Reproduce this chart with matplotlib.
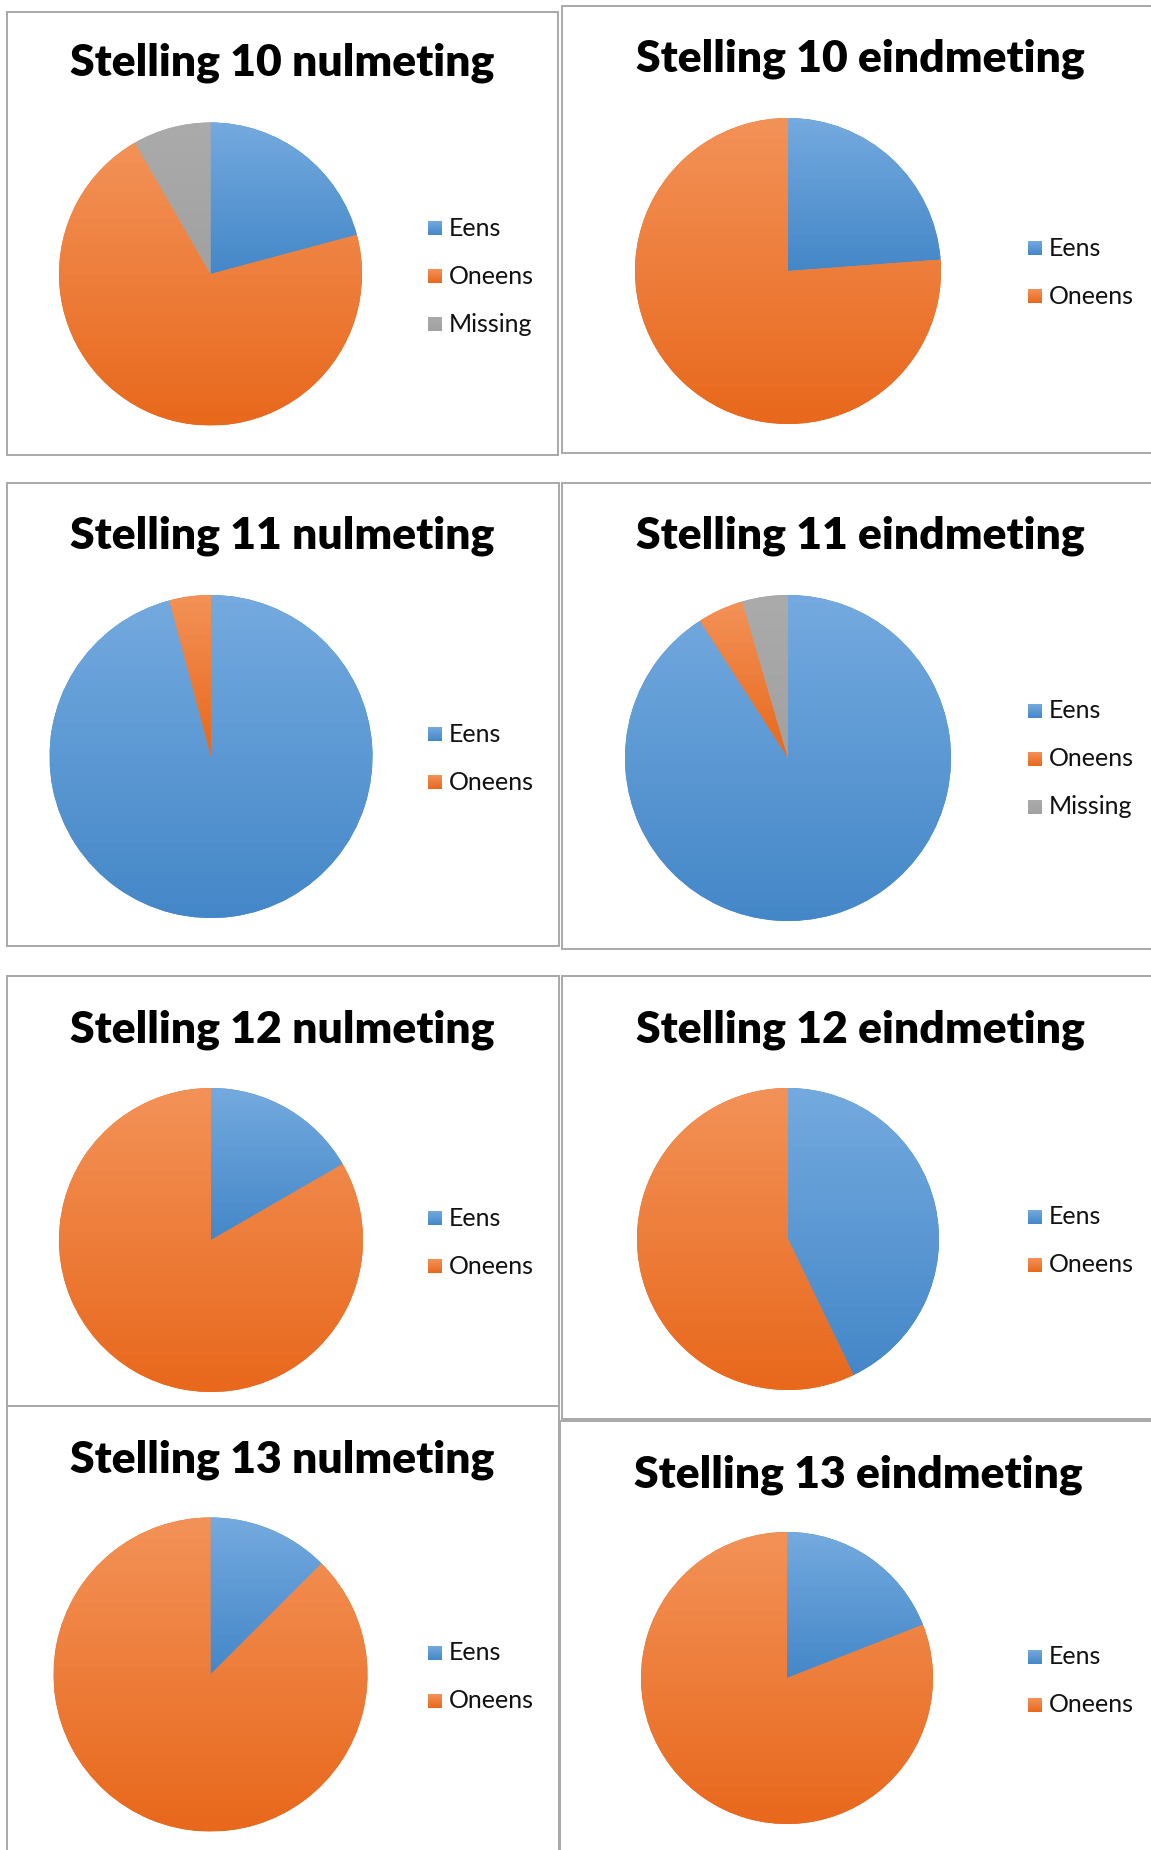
import numpy as np
import matplotlib.pyplot as plt
from matplotlib.patches import Rectangle
from matplotlib.colors import LinearSegmentedColormap

# =========================
# Data (counts per answer)
# =========================
labels = ["Eens", "Oneens", "Missing"]

titles = ["Stelling 10 nulmeting", "Stelling 10 eindmeting",
          "Stelling 11 nulmeting", "Stelling 11 eindmeting",
          "Stelling 12 nulmeting", "Stelling 12 eindmeting",
          "Stelling 13 nulmeting", "Stelling 13 eindmeting"]

s10_nul = [5, 17, 2]
s10_eind = [5, 16]
s11_nul = [23, 1]
s11_eind = [20, 1, 1]
s12_nul = [4, 20]
s12_eind = [9, 12]
s13_nul = [3, 21]
s13_eind = [4, 17]

values = [s10_nul, s10_eind, s11_nul, s11_eind,
          s12_nul, s12_eind, s13_nul, s13_eind]

# gradient colours (top, bottom) per answer
grad_cols = {
    "Eens": ("#74aadf", "#4487c8"),
    "Oneens": ("#f39258", "#e8681c"),
    "Missing": ("#ababab", "#a1a1a1"),
}

# =========================
# Layout (pixels, measured from top)
# =========================
W, H = 1151, 1850
panels = [(7, 12, 558, 455), (562, 6, 1200, 453),
          (7, 483, 559, 946), (562, 483, 1200, 949),
          (7, 976, 559, 1406), (562, 976, 1200, 1419),
          (7, 1406, 559, 1900), (560, 1421, 1200, 1900)]
centers = [(210.5, 274, 151.5), (788, 271, 153),
           (211, 756.5, 161.5), (788, 758, 163),
           (211, 1240, 152), (788, 1239, 151),
           (210.5, 1674.5, 157), (787, 1678, 146)]
title_pos = [(282, 63), (860, 59), (282, 536), (860, 536),
             (282, 1030), (860, 1030), (282, 1460), (858, 1475)]
legend_pos = [(428, 228), (1028, 248), (428, 734), (1028, 711),
              (428, 1218), (1028, 1217), (428, 1653), (1028, 1657)]
row_step = 48

fig = plt.figure(figsize=(W / 100, H / 100), dpi=100)
ax = fig.add_axes([0, 0, 1, 1])

grad = np.linspace(0, 1, 256).reshape(-1, 1)
cmaps = {k: LinearSegmentedColormap.from_list(k, v) for k, v in grad_cols.items()}

for i in range(len(titles)):
    x0, y0, x1, y1 = panels[i]
    ax.add_patch(Rectangle((x0, H - y1), x1 - x0, y1 - y0, facecolor="white",
                           edgecolor="#a8a8a8", lw=1.4, zorder=1))

    vals = values[i]
    labs = labels[:len(vals)]
    cx, cy, r = centers[i]
    wedges, _ = ax.pie(vals, colors=[grad_cols[l][1] for l in labs],
                       startangle=90, counterclock=False,
                       center=(cx, H - cy), radius=r, frame=True,
                       wedgeprops=dict(linewidth=0))
    for w, l in zip(wedges, labs):
        w.set_zorder(2)
        ext = w.get_path().get_extents()
        im = ax.imshow(grad, cmap=cmaps[l], aspect="auto", origin="upper",
                       extent=(ext.x0, ext.x1, ext.y0, ext.y1),
                       interpolation="bilinear", zorder=3)
        im.set_clip_path(w)

    tx, ty = title_pos[i]
    ax.text(tx, H - ty, titles[i], ha="center", va="center", fontsize=32,
            fontweight="heavy", family="Lato", color="black", zorder=5)

    lx, ly = legend_pos[i]
    for j, l in enumerate(labs):
        yc = H - (ly + j * row_step)
        ax.imshow(grad, cmap=cmaps[l], aspect="auto", origin="upper",
                  extent=(lx, lx + 14, yc - 7, yc + 7), zorder=4)
        ax.text(lx + 21, yc, l, ha="left", va="center", fontsize=18,
                family="Lato", color="#111111", zorder=5)

ax.set_xlim(0, W)
ax.set_ylim(0, H)
ax.set_aspect("auto")
ax.axis("off")

plt.savefig("out.png", dpi=100, facecolor="white")
